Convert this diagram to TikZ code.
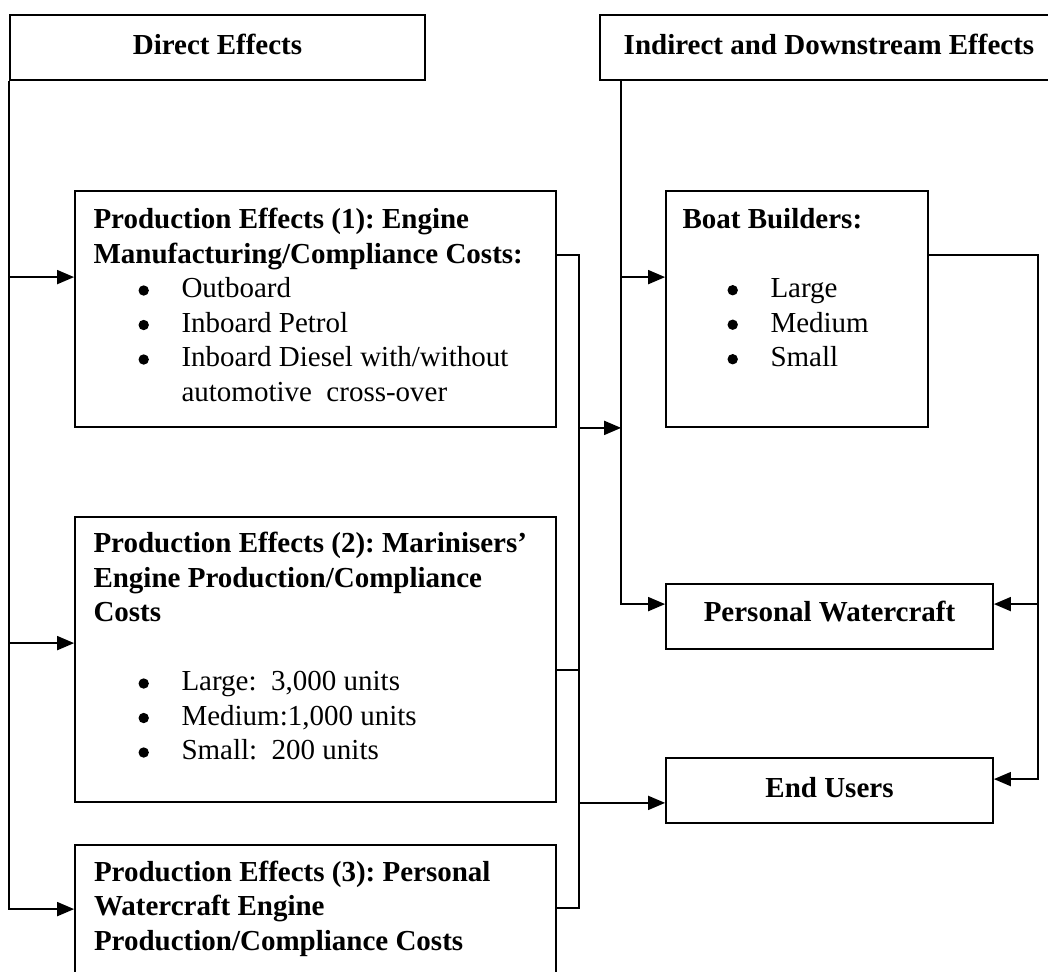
\documentclass[tikz,border=0pt]{standalone}
\usepackage{fontspec}
\setmainfont{Liberation Serif}
\frenchspacing
\usetikzlibrary{arrows.meta, positioning, calc, fit}

% bullet dot and bullet line, Word-like indent
\newcommand{\bdot}{\tikz[baseline=0pt, x=1pt, y=1pt]\fill (0,3.7) circle [radius=2.6pt];}
\newcommand{\bitem}[1]{\hspace*{22.5pt}\makebox[21.5pt][l]{\bdot}#1}

\begin{document}
\begin{tikzpicture}[x=0.5pt, y=-0.5pt, line width=0.9pt,
    >={Triangle[length=8.5pt, width=7pt]},
    box/.style={draw, inner sep=0pt},
    headtxt/.style={font=\fontsize{14.5}{17.25}\selectfont\bfseries},
    bodytxt/.style={anchor=north west, inner sep=0pt, align=left,
                    font=\fontsize{14.5}{17.25}\selectfont}]
  \useasboundingbox (0,0) rectangle (1048,972);
  \clip (0,0) rectangle (1048,972);
  % Column heads
  \node[box, fit={(10,15) (425,80)}] (dir) {};
  \node[headtxt] (dirt) at ($(dir.center)+(0,-3)$) {Direct Effects};
  \node[box, fit={(600,15) (1058,80)}] (ind) {};
  \node[headtxt] (indt) at ($(ind.center)+(0,-3)$) {Indirect and Downstream Effects};
  % Production boxes
  \node[box, fit={(75,191) (556,427)}] (pe1) {};
  \node[box, fit={(75,517) (556,802)}] (pe2) {};
  \node[box, fit={(75,845) (556,1000)}] (pe3) {};
  \node[bodytxt] (pe1t) at ($(pe1.north west)+(19,18)$) {%
    \textbf{Production Effects (1): Engine}\\
    \textbf{Manufacturing/Compliance Costs:}\\
    \bitem{Outboard}\\
    \bitem{Inboard Petrol}\\
    \bitem{Inboard Diesel with/without}\\
    \hspace*{44pt}automotive\ \ cross-over};
  \node[bodytxt] (pe2t) at ($(pe2.north west)+(19,16)$) {%
    \textbf{Production Effects (2): Marinisers’}\\
    \textbf{Engine Production/Compliance}\\
    \textbf{Costs}\\[17.25pt]
    \bitem{Large:\ \ 3,000 units}\\
    \bitem{Medium:1,000 units}\\
    \bitem{Small:\ \ 200 units}};
  \node[bodytxt] (pe3t) at ($(pe3.north west)+(19,16)$) {%
    \textbf{Production Effects (3): Personal}\\
    \textbf{Watercraft Engine}\\
    \textbf{Production/Compliance Costs}};
  % Downstream boxes
  \node[box, fit={(666,191) (928,427)}] (bb) {};
  \node[bodytxt] (bbt) at ($(bb.north west)+(17,18)$) {%
    \textbf{Boat Builders:}\\[17.25pt]
    \bitem{Large}\\
    \bitem{Medium}\\
    \bitem{Small}};
  \node[box, fit={(666,584) (993,649)}] (pw) {};
  \node[headtxt] (pwt) at ($(pw.center)+(0,-5)$) {Personal Watercraft};
  \node[box, fit={(666,758) (993,823)}] (eu) {};
  \node[headtxt] (eut) at ($(eu.center)+(0,-3)$) {End Users};
  % Connector points
  \coordinate (pe1in) at ($(pe1.north west)+(0,87)$);
  \coordinate (pe2in) at ($(pe2.north west)+(0,127)$);
  \coordinate (pe3in) at ($(pe3.north west)+(0,65)$);
  \coordinate (pe1out) at ($(pe1.north east)+(0,65)$);
  \coordinate (pe2out) at ($(pe2.north east)+(0,154)$);
  \coordinate (pe3out) at ($(pe3.north east)+(0,64)$);
  \coordinate (trunk) at ($(pe1.north east)+(22,0)$);
  \coordinate (rtrunk) at ($(ind.south west)+(22,0)$);
  \coordinate (bbin) at ($(bb.north west)+(0,87)$);
  \coordinate (bbout) at ($(bb.north east)+(0,65)$);
  \coordinate (rside) at ($(bbout)+(109,0)$);
  \coordinate (pwin) at ($(pw.north west)+(0,21)$);
  \coordinate (pwr) at ($(pw.north east)+(0,21)$);
  \coordinate (eur) at ($(eu.north east)+(0,22)$);
  % Direct effects feed
  \draw[->] (dir.south west) |- (pe3in);
  \draw[->] (dir.south west |- pe1in) -- (pe1in);
  \draw[->] (dir.south west |- pe2in) -- (pe2in);
  % Production outputs
  \draw (pe1out) -| (trunk |- pe3out) -- (pe3out);
  \draw (pe2out) -- (trunk |- pe2out);
  \draw[->] (trunk |- pe1.south) -- (rtrunk |- pe1.south);
  \draw[->] (trunk |- pe2.south) -- (eu.west |- pe2.south);
  % Indirect feed
  \draw[->] (rtrunk) |- (pwin);
  \draw[->] (rtrunk |- bbin) -- (bbin);
  % Boat builders outputs
  \draw[->] (bbout) -| (rside |- eur) -- (eur);
  \draw[->] (rside |- pwr) -- (pwr);
\end{tikzpicture}
\end{document}
